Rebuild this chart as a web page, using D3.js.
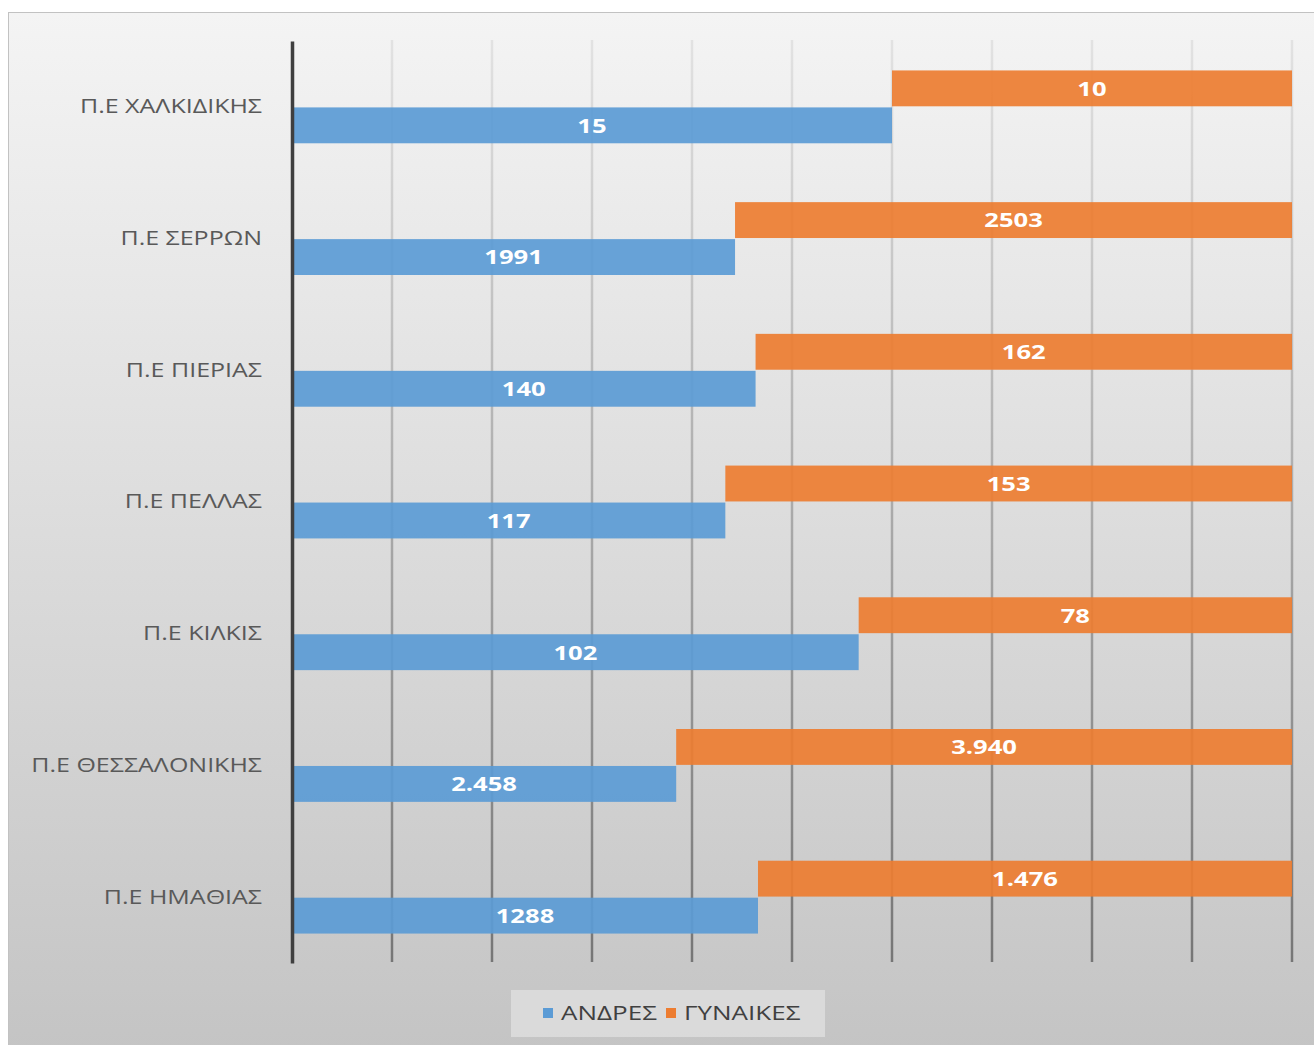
<!DOCTYPE html>
<html lang="el">
<head>
<meta charset="UTF-8">
<title>ΑΝΔΡΕΣ - ΓΥΝΑΙΚΕΣ</title>
<script src="https://cdn.jsdelivr.net/npm/d3@7"></script>
<style>
  body { margin: 0; background: #fff; }
  text { font-family: "Open Sans", "Noto Sans", sans-serif; }
</style>
</head>
<body>
<svg width="1314" height="1045"></svg>
<script>
// κατηγορίες (από πάνω προς τα κάτω)
var categories = ["Π.Ε ΧΑΛΚΙΔΙΚΗΣ", "Π.Ε ΣΕΡΡΩΝ", "Π.Ε ΠΙΕΡΙΑΣ", "Π.Ε ΠΕΛΛΑΣ",
                  "Π.Ε ΚΙΛΚΙΣ", "Π.Ε ΘΕΣΣΑΛΟΝΙΚΗΣ", "Π.Ε ΗΜΑΘΙΑΣ"];
var andres   = [15, 1991, 140, 117, 102, 2458, 1288];
var gynaikes = [10, 2503, 162, 153, 78, 3940, 1476];
// ετικέτες όπως εμφανίζονται
var andresLabels   = ["15", "1991", "140", "117", "102", "2.458", "1288"];
var gynaikesLabels = ["10", "2503", "162", "153", "78", "3.940", "1.476"];
var seriesNames = ["ΑΝΔΡΕΣ", "ΓΥΝΑΙΚΕΣ"];
var xTicks = d3.range(0, 1.0001, 0.1);

var colors = {andres: "#5b9bd5", gynaikes: "#ed7d31"};

// μετατρέπει x,y σε transform με οριζόντιο τέντωμα (το πρωτότυπο είναι τεντωμένο)
function stretch(k) {
    return function (sel) {
        sel.each(function () {
            var t = d3.select(this);
            var tx = +t.attr("x") || 0, ty = +t.attr("y") || 0;
            t.attr("x", 0).attr("y", 0)
             .attr("transform", "translate(" + tx + "," + ty + ") scale(" + k + ",1)");
        });
    };
}

var svg = d3.select("svg");
var defs = svg.append("defs");

// φόντο
var bg = defs.append("linearGradient").attr("id", "bg")
    .attr("x1", 0).attr("y1", 0).attr("x2", 0).attr("y2", 1);
bg.append("stop").attr("offset", "0%").attr("stop-color", "#f4f4f4");
bg.append("stop").attr("offset", "100%").attr("stop-color", "#c4c4c4");

var gridGrad = defs.append("linearGradient").attr("id", "gridGrad")
    .attr("gradientUnits", "userSpaceOnUse")
    .attr("x1", 0).attr("y1", 40).attr("x2", 0).attr("y2", 962);
gridGrad.append("stop").attr("offset", "0%").attr("stop-color", "#e2e2e2");
gridGrad.append("stop").attr("offset", "50%").attr("stop-color", "#ababab");
gridGrad.append("stop").attr("offset", "100%").attr("stop-color", "#767676");

svg.append("rect")
    .attr("x", 8.5).attr("y", 12.5).attr("width", 1310).attr("height", 1040)
    .attr("fill", "url(#bg)").attr("stroke", "#c2c2c2");

// δεδομένα 100% στοιβαγμένα
var rows = categories.map(function (c, i) {
    return {cat: c, andres: andres[i], gynaikes: gynaikes[i],
            la: andresLabels[i], lg: gynaikesLabels[i]};
});
var stacked = d3.stack().keys(["andres", "gynaikes"])
    .offset(d3.stackOffsetExpand)(rows);

var x = d3.scaleLinear().domain([0, 1]).range([292, 1292]);
var y = d3.scaleBand().domain(categories).range([41, 963])
    .paddingInner(0.43).paddingOuter(0.215);
var ySub = d3.scaleBand().domain(["gynaikes", "andres"])
    .range([0, y.bandwidth()]).padding(0.03);

// γραμμές πλέγματος
svg.append("g").selectAll("line")
    .data(xTicks.slice(1))
    .enter().append("line")
    .attr("x1", function (d) { return x(d); })
    .attr("x2", function (d) { return x(d); })
    .attr("y1", 40).attr("y2", 962)
    .attr("stroke", "url(#gridGrad)").attr("stroke-width", 2.5);

// μπάρες
var layers = svg.append("g").selectAll("g")
    .data(stacked)
    .enter().append("g")
    .attr("fill", function (s) { return colors[s.key]; });

layers.selectAll("rect")
    .data(function (s) { return s.map(function (d) { return {key: s.key, d: d}; }); })
    .enter().append("rect")
    .attr("x", function (o) { return x(o.d[0]); })
    .attr("width", function (o) { return x(o.d[1]) - x(o.d[0]); })
    .attr("y", function (o) { return y(o.d.data.cat) + ySub(o.key); })
    .attr("height", ySub.bandwidth())
    .attr("fill-opacity", 0.92);

layers.selectAll("text")
    .data(function (s) { return s.map(function (d) { return {key: s.key, d: d}; }); })
    .enter().append("text")
    .attr("x", function (o) { return (x(o.d[0]) + x(o.d[1])) / 2; })
    .attr("y", function (o) { return y(o.d.data.cat) + ySub(o.key) + ySub.bandwidth() / 2; })
    .attr("dy", "0.37em")
    .attr("text-anchor", "middle")
    .attr("fill", "#fff")
    .attr("font-weight", "bold")
    .attr("font-size", 20)
    .text(function (o) { return o.key === "andres" ? o.d.data.la : o.d.data.lg; })
    .call(stretch(1.28));

// κάθετος άξονας
var yAxis = d3.axisLeft(y).tickSize(0).tickPadding(30);
var ya = svg.append("g").attr("transform", "translate(292,0)").call(yAxis);
ya.select(".domain").attr("stroke", "#3f3f3f").attr("stroke-width", 3.5);
ya.selectAll("text")
    .attr("font-size", 20).attr("fill", "#595959")
    .attr("font-family", "'Open Sans', sans-serif")
    .call(stretch(1.25));

// υπόμνημα
var legend = svg.append("g");
legend.append("rect")
    .attr("x", 511).attr("y", 990).attr("width", 314).attr("height", 47)
    .attr("fill", "#dedede").attr("fill-opacity", 0.8);
var legItems = [{name: seriesNames[0], key: "andres", x: 543},
                {name: seriesNames[1], key: "gynaikes", x: 666}];
var li = legend.selectAll("g.item").data(legItems).enter().append("g")
    .attr("class", "item")
    .attr("transform", function (d) { return "translate(" + d.x + ",1008)"; });
li.append("rect").attr("width", 10).attr("height", 10)
    .attr("fill", function (d) { return colors[d.key]; });
li.append("text").attr("x", 18).attr("y", 5).attr("dy", "0.36em")
    .attr("font-size", 20).attr("fill", "#404040")
    .text(function (d) { return d.name; })
    .call(stretch(1.3));
</script>
</body>
</html>
